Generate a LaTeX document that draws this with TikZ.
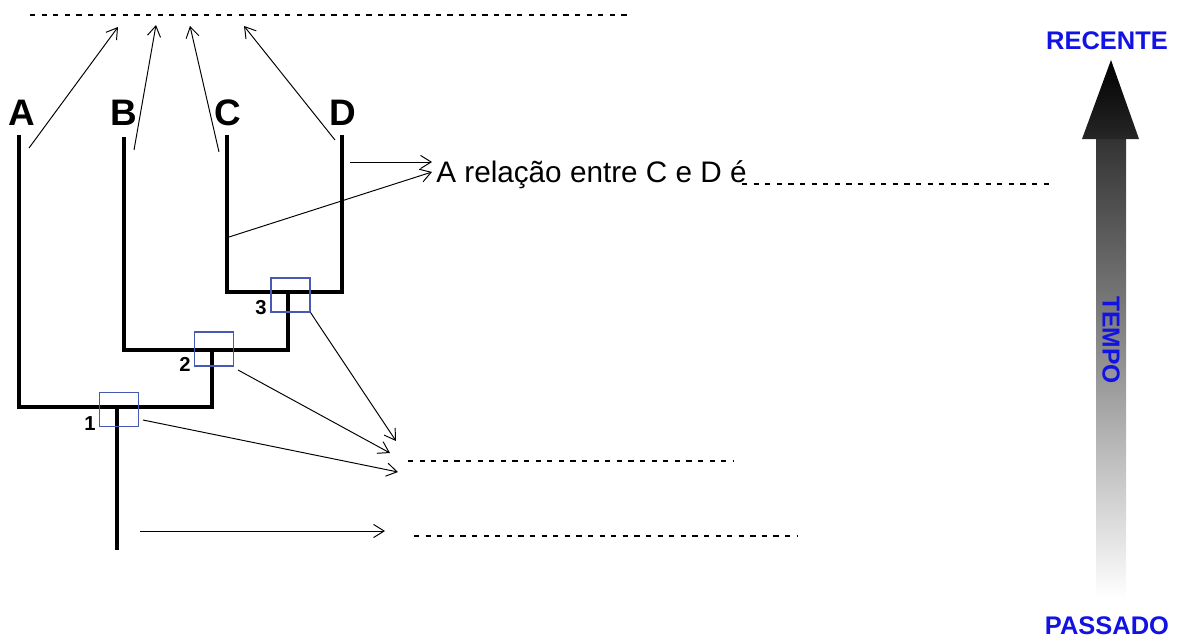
\documentclass[tikz,border=0pt]{standalone}
\usepackage{fontspec}
\setmainfont{Liberation Sans}
\usepackage{tikz}
\usetikzlibrary{positioning,calc,arrows,arrows.meta}
\definecolor{textblue}{RGB}{18,18,228}
\definecolor{boxblue}{RGB}{70,90,180}
\newcommand{\taxon}[1]{\fontsize{21}{24}\selectfont\bfseries #1}
\newcommand{\nodenum}[1]{\fontsize{11.5}{13}\selectfont\bfseries #1}
\newcommand{\timelabel}[1]{\fontsize{14.5}{17}\selectfont\bfseries\color{textblue}#1}

\begin{document}
\begin{tikzpicture}[x=0.02cm, y=-0.02cm,
  >={Straight Barb[length=6pt, width=7.5pt]},
  branch/.style={line width=2.6pt},
  nodebox/.style={draw=boxblue, line width=0.6pt, inner sep=0pt, minimum width=0.78cm, minimum height=0.68cm},
  blank/.style={dash pattern=on 3pt off 3.6pt, line width=0.7pt},
  every edge/.style={draw, line width=0.55pt}]
\useasboundingbox (0,0) rectangle (1180,639);

% tree
\coordinate (tA) at (19,135);
\coordinate (tB) at (124,137);
\coordinate (tC) at (227,135);
\coordinate (tD) at (342,135);
\coordinate (n3) at (288,292);
\coordinate (n2) at (212,350);
\coordinate (n1) at (117,407);
\coordinate (root) at (117,550);
\draw[branch] (tC) |- (n3) -| (tD);
\draw[branch] (tB) |- (n2) -| (n3);
\draw[branch] (tA) |- (n1) -| (n2);
\draw[branch] (n1) -- (root);

\node (A) at (22,113) {\taxon{A}};
\node (B) at (124,113) {\taxon{B}};
\node (C) at (228,113) {\taxon{C}};
\node (D) at (343,113) {\taxon{D}};

\node[nodebox] (box3) at (290.5,295) {};
\node[nodebox] (box2) at (214,349) {};
\node[nodebox] (box1) at (119,409.5) {};
\node (num3) at (261,308) {\nodenum{3}};
\node (num2) at (185,364) {\nodenum{2}};
\node (num1) at (90,424) {\nodenum{1}};

% blanks to fill
\coordinate (topL) at (30,15);
\coordinate (topR) at (628,15);
\draw[blank] (topL) -- (topR);
\node[anchor=base west, inner sep=0pt] (question) at (436,182) {\fontsize{16.9}{20}\selectfont A relação entre C e D é};
\coordinate (qL) at (742,184);
\coordinate (qR) at (1055,184);
\draw[blank] (qL) -- (qR);
\coordinate (midL) at (408,461);
\coordinate (midR) at (733,461);
\draw[blank] (midL) -- (midR);
\coordinate (lowL) at (414,536);
\coordinate (lowR) at (798,536);
\draw[blank] (lowL) -- (lowR);

% pointers
\coordinate (fA) at (29,148);
\coordinate (fB) at (134,150);
\coordinate (fC) at (219,152);
\coordinate (fD) at (335,140);
\coordinate (eA) at (118,27);
\coordinate (eB) at (156,25);
\coordinate (eC) at (190,26);
\coordinate (eD) at (244,26);
\coordinate (fDq) at (350,162);
\coordinate (fCq) at (229,237);
\coordinate (eDq) at (432,162);
\coordinate (eCq) at (432,172);
\coordinate (f2) at (238,370);
\coordinate (f1) at (143,420);
\coordinate (e3) at (396,441);
\coordinate (e2) at (390,453);
\coordinate (e1) at (398,472);
\coordinate (fr) at (140,531);
\coordinate (er) at (385,531);
\draw
	(fA) edge[->] (eA)
	(fB) edge[->] (eB)
	(fC) edge[->] (eC)
	(fD) edge[->] (eD)
	(fDq) edge[->] (eDq)
	(fCq) edge[->] (eCq)
	(box3.south east) edge[->] (e3)
	(f2) edge[->] (e2)
	(f1) edge[->] (e1)
	(fr) edge[->] (er)
;

% time arrow
\shade[top color=black!80, bottom color=white, middle color=black!42] (1096,139) rectangle (1126,598);
\shade[top color=black, bottom color=black!85] (1111,60) -- (1139,139) -- (1082,139) -- cycle;
\node (recent) at (1107,41) {\timelabel{RECENTE}};
\node (past) at (1107,626) {\timelabel{PASSADO}};
\node[rotate=-90] (time) at (1111,340) {\fontsize{14}{16}\selectfont\bfseries\color{textblue}TEMPO};
\end{tikzpicture}
\end{document}
